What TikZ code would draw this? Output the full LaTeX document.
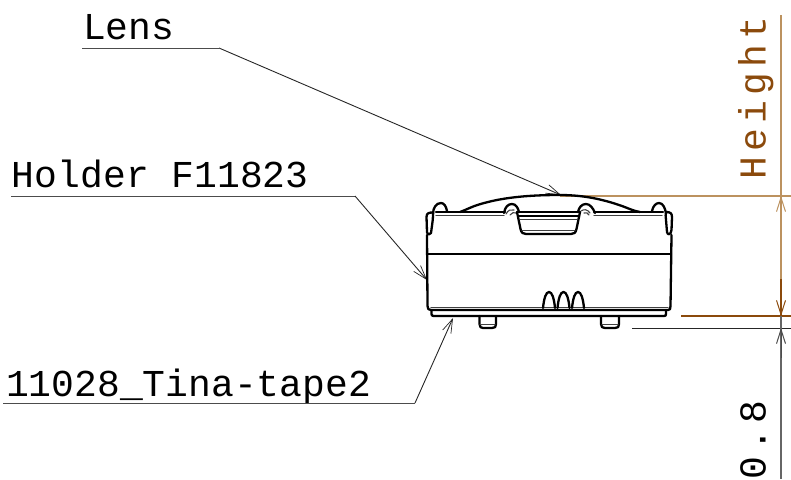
\documentclass[tikz,border=0pt]{standalone}
\usepackage{fontspec}
\setmainfont{Liberation Mono}
\newfontfamily\spacedmono[LetterSpace=13.7]{Liberation Mono}
\usetikzlibrary{arrows.meta}
\definecolor{dimbrown}{HTML}{8B4A0C}
\definecolor{dimlight}{HTML}{BC925F}
\tikzset{
  lbl/.style={anchor=base west,inner sep=0pt,outer sep=0pt,font=\fontsize{38}{38}\selectfont,text=black},
  dimlbl/.style={anchor=base west,inner sep=0pt,outer sep=0pt,font=\fontsize{38}{38}\spacedmono,rotate=90,text=dimbrown},
  leader/.style={line width=0.9pt,draw=black!85,-{Straight Barb[length=14pt,width=9pt,line width=0.7pt]}},
  ext/.style={line width=1.1pt},
  part/.style={line width=2.3pt,black,line join=round,line cap=round},
  thin part/.style={line width=1.1pt,black!75,line cap=round},
}
\begin{document}
\begin{tikzpicture}[x=1pt,y=-1pt]
\useasboundingbox (0,0) rectangle (791,479);
% labels
\node[lbl] (lens) at (83,39) {Lens};
\node[lbl] (holder) at (12,187) {Holder F11823};
\node[lbl] (tape) at (6,396) {11028\_Tina-tape2};
\node[dimlbl] (height) at (765.5,179) {Height};
\node[dimlbl,text=black] (gap) at (765.5,479) {0.8};
% leader coordinates
\coordinate (l0) at (82,48); \coordinate (l1) at (219,48); \coordinate (l2) at (561,195);
\coordinate (h0) at (11,196); \coordinate (h1) at (355,196); \coordinate (h2) at (427,280);
\coordinate (t0) at (3,403); \coordinate (t1) at (415,403); \coordinate (t2) at (453,318);
\draw[line width=1pt,black!70] (l0) -- (l1);
\draw[line width=1pt,black!70] (h0) -- (h1);
\draw[line width=1pt,black!70] (t0) -- (t1);
\draw[leader] (l1) -- (l2);
\draw[leader] (h1) -- (h2);
\draw[leader] (t1) -- (t2);
% dimension lines
\coordinate (d0) at (781,15); \coordinate (d1) at (781,196); \coordinate (d2) at (781,316);
\coordinate (d3) at (781,328); \coordinate (d4) at (781,479); \coordinate (d5) at (781,279);
\draw[ext,dimlight] (560,196) -- (791,196);
\draw[ext,dimlight,line width=1.3pt] (d0) -- (d5);
\draw[ext,dimbrown,line width=1.3pt] (d5) -- (d2);
\draw[ext,dimlight,{Straight Barb[length=14pt,width=9pt,line width=1pt]}-] (d1) -- ++(0,40);
\draw[ext,dimbrown,-{Straight Barb[length=14pt,width=9pt,line width=1pt]}] (781,290) -- (d2);
\draw[ext,dimbrown] (681,316) -- (791,316);
\draw[line width=0.9pt,black!85] (632,328) -- (791,328);
\draw[line width=1.3pt,black!60] (d2) -- (d4);
\draw[line width=1pt,black!70,{Straight Barb[length=14pt,width=9pt,line width=1pt]}-] (d3) -- ++(0,30);
% body
\draw[part] (427,235) -- (427.5,306) .. controls (427.5,309) and (428.5,310) .. (431,310)
  -- (668,310) .. controls (670,310) and (670.5,309) .. (670.5,306) -- (671.5,235);
\draw[part] (427,254) -- (671,254);
\draw[thin part] (431,307.5) -- (668,307.5);
% tape
\draw[part] (431.5,310) -- (431.5,314) .. controls (431.5,315.5) and (432,316) .. (434,316)
  -- (664,316) .. controls (665.5,316) and (666,315.5) .. (666,314) -- (666,310);
% pegs
\draw[part] (479.5,316) -- (479.5,324) .. controls (479.5,327) and (481,328) .. (483,328) -- (492,328) .. controls (495,328) and (496,327) .. (496,324) -- (496,316);
\draw[thin part] (480,324.5) -- (495,324.5);
\draw[part] (601,316) -- (601,324) .. controls (601,327) and (602.5,328) .. (605,328) -- (615,328) .. controls (618,328) and (619,327) .. (619,324) -- (619,316);
\draw[thin part] (602,324.5) -- (618,324.5);
% humps
\foreach \a/\b in {543/555,557.5/569.5,572/584}{
  \draw[part] (\a,308) .. controls (\a+1,298) and ({(\a+\b)/2-3},292) .. ({(\a+\b)/2},292)
     .. controls ({(\a+\b)/2+3},292) and (\b-1,298) .. (\b,308);
}
% top edges
\draw[part] (436,212) -- (505,212);
\draw[part] (517,212) -- (580,212);
\draw[part] (594,212) -- (663,212);
\draw[thin part] (436,215.5) -- (504,215.5);
\draw[thin part] (594,215.5) -- (662,215.5);
% dome
\draw[part] (460,212) .. controls (468,209) and (472,206.5) .. (479,204.5)
  .. controls (500,198) and (525,195) .. (560,195)
  .. controls (585,195) and (605,200) .. (622,206)
  .. controls (630,209) and (634,211) .. (640,212);
% outer hooks and ears
\draw[part] (433,214) .. controls (433,208) and (436,203) .. (441,203) .. controls (444,203) and (446,206) .. (447,211);
\draw[part] (652,211) .. controls (653,206) and (656,203) .. (659,203) .. controls (663,203) and (665,208) .. (666,213);
\draw[part] (433,212.5) .. controls (429,212.5) and (426.5,213) .. (426.5,217) -- (427,232) .. controls (427.5,235) and (430,235) .. (431,233) -- (432.5,222) .. controls (433,218) and (433,215) .. (433,212.5);
\draw[part] (666,212) .. controls (670,212) and (672,213) .. (672,217) -- (671.5,230) .. controls (671,235) and (667.5,235.5) .. (667,232) -- (666,220) .. controls (665.5,217) and (665.5,214) .. (666,212);
% inner hooks
\draw[part] (504,213) .. controls (505,207) and (508,204) .. (512,204) .. controls (516,204) and (518,208) .. (519,212);
\draw[thin part] (506,214) .. controls (508,210) and (511,209) .. (514,210);
\draw[thin part] (510,215) .. controls (512,212.5) and (514,212) .. (516,213);
\draw[part] (578,212) .. controls (579,207) and (582,204) .. (586,204) .. controls (590,204) and (593,208) .. (595,213);
\draw[thin part] (581,211) .. controls (584,209) and (587,209) .. (590,213);
\draw[thin part] (584,213) .. controls (586,212) and (588,213) .. (589,215);
% window
\draw[part] (517,212) -- (520.5,229) .. controls (521.5,233) and (523,234) .. (526,234) -- (571,234) .. controls (574,234) and (575.5,233) .. (576.5,229) -- (580,212);
\draw[part] (518.5,216) -- (578.5,216);
\draw[thin part] (520,219.5) -- (577,219.5);
\draw[thin part] (522,230.5) -- (575,230.5);
\end{tikzpicture}
\end{document}
